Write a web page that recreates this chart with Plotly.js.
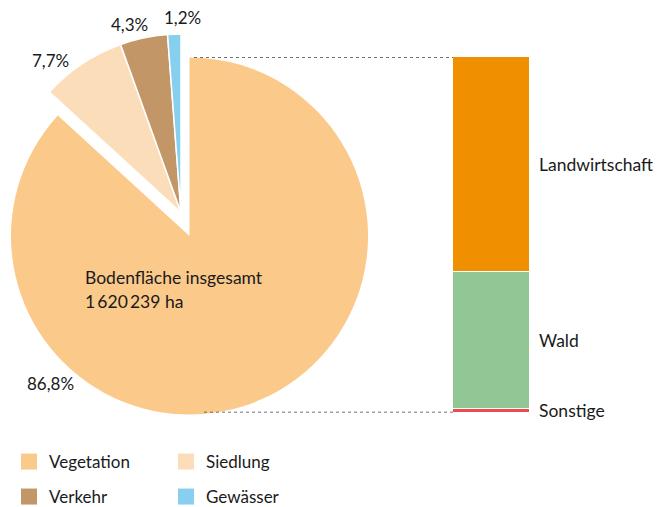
<!DOCTYPE html>
<html>
<head>
<meta charset="utf-8">
<script src="https://cdn.plot.ly/plotly-3.0.1.min.js"></script>
<style>html,body{margin:0;padding:0;background:#fff;}#chart{width:657px;height:507px;}</style>
</head>
<body>
<div id="chart"></div>
<script>
// ---- data ----
const pieLabels = ['Vegetation', 'Siedlung', 'Verkehr', 'Gewässer'];
const pieValues = [86.8, 7.7, 4.3, 1.2];
const barLabels = ['Landwirtschaft', 'Wald', 'Sonstige'];
const barValues = [52.5, 33.5, 0.8];
const totalTitle = 'Bodenfläche insgesamt';
const totalHa = 1620239;

// ---- style ----
const pieColors = ['#FBC98A', '#FCDDBA', '#C29667', '#86CFEF'];
const barColors = ['#F09000', '#90C795', '#E84C4C'];
const FONT = 'Lato, "Source Sans Pro", sans-serif';
const W = 657, H = 507;
const px = x => x / W;
const py = y => 1 - y / H;

const CX = 189.5, CY = 236, R = 178.5;     // main pie centre / radius (px)
const DX = -8.5, DY = -23.5;               // shift of the pulled-out group (px)

const fmt = v => v.toFixed(1).replace('.', ',') + '%';
const fmtHa = n => String(n).replace(/\B(?=(\d{3})+(?!\d))/g, '\u2009') + ' ha';

const transparent = 'rgba(0,0,0,0)';
const restSum = pieValues.slice(1).reduce((a, b) => a + b, 0);

const traces = [];
// main (Vegetation) slice
traces.push({
  type: 'pie', sort: false, direction: 'clockwise', rotation: 0,
  labels: [pieLabels[0], 'rest'], values: [pieValues[0], restSum],
  marker: {colors: [pieColors[0], transparent], line: {color: '#fff', width: 0}},
  textinfo: 'none', hoverinfo: 'skip', showlegend: false,
  domain: {x: [px(CX - R), px(CX + R)], y: [py(CY + R), py(CY - R)]}
});
// pulled-out small slices
traces.push({
  type: 'pie', sort: false, direction: 'clockwise', rotation: 0,
  labels: ['veg-space'].concat(pieLabels.slice(1)), values: pieValues,
  marker: {colors: [transparent].concat(pieColors.slice(1)), line: {color: '#fff', width: [0, 1.5, 1.5, 1.5]}},
  textinfo: 'none', hoverinfo: 'skip', showlegend: false,
  domain: {x: [px(CX + DX - R), px(CX + DX + R)], y: [py(CY + DY + R), py(CY + DY - R)]}
});
// stacked bar (breakdown of Vegetation), bottom segment first
for (let i = barLabels.length - 1; i >= 0; i--) {
  traces.push({
    type: 'bar', x: ['Vegetation'], y: [barValues[i]], name: barLabels[i],
    xaxis: 'x2', yaxis: 'y2', width: 1,
    marker: {color: barColors[i], line: {color: '#fff', width: 1.5}},
    showlegend: false, hoverinfo: 'skip'
  });
}
// legend entries: one small legend per entry (2 x 2 grid)
const legendNames = ['legend', 'legend2', 'legend3', 'legend4'];
pieLabels.forEach((lab, i) => {
  traces.push({
    type: 'scatter', mode: 'markers', x: [null], y: [null], name: lab,
    marker: {symbol: 'square', size: 16, color: pieColors[i]},
    legend: legendNames[i], hoverinfo: 'skip'
  });
});

const barTotal = barValues.reduce((a, b) => a + b, 0);

// annotations
const pctPos = [[50, 383], [50, 61], [129, 24], [182, 18]];
const annotations = pieValues.map((v, i) => ({
  text: fmt(v), x: px(pctPos[i][0]), y: py(pctPos[i][1]), xref: 'paper', yref: 'paper',
  showarrow: false, xanchor: 'center', yanchor: 'middle', font: {size: 17, color: '#1a1a1a'}
}));
annotations.push({text: totalTitle, x: px(83), y: py(277), xref: 'paper', yref: 'paper',
  showarrow: false, xanchor: 'left', yanchor: 'middle', font: {size: 17.5, color: '#1a1a1a'}});
annotations.push({text: fmtHa(totalHa), x: px(83), y: py(301), xref: 'paper', yref: 'paper',
  showarrow: false, xanchor: 'left', yanchor: 'middle', font: {size: 17.5, color: '#1a1a1a'}});
let cum = barTotal;
barLabels.forEach((lab, i) => {
  const mid = cum - barValues[i] / 2;
  cum -= barValues[i];
  annotations.push({text: lab, x: px(537), y: mid, xref: 'paper', yref: 'y2',
    showarrow: false, xanchor: 'left', yanchor: 'middle', font: {size: 17.5, color: '#1a1a1a'}});
});

const shapes = [
  {type: 'line', xref: 'paper', yref: 'y2', x0: px(194), x1: px(453), y0: barTotal, y1: barTotal,
   line: {color: '#444', width: 1.5, dash: 'dot'}},
  {type: 'line', xref: 'paper', yref: 'y2', x0: px(204), x1: px(453), y0: 0, y1: 0,
   line: {color: '#444', width: 1.5, dash: 'dot'}}
];

const legendBase = {
  orientation: 'v', xref: 'container', yref: 'container', xanchor: 'left', yanchor: 'middle',
  bgcolor: 'rgba(0,0,0,0)', borderwidth: 0,
  font: {size: 17, color: '#1a1a1a', family: FONT}, itemclick: false, itemdoubleclick: false
};
const legPos = [[9, 462], [166, 462], [9, 497], [166, 497]];

const layout = {
  width: W, height: H, margin: {l: 0, r: 0, t: 0, b: 0, autoexpand: false},
  paper_bgcolor: '#fff', plot_bgcolor: '#fff',
  font: {family: FONT, size: 17, color: '#1a1a1a'},
  barmode: 'stack', bargap: 0,
  xaxis: {visible: false, domain: [0, 0.01]},
  yaxis: {visible: false, domain: [0, 0.01]},
  xaxis2: {visible: false, domain: [px(453), px(530)], range: [-0.5, 0.5], fixedrange: true},
  yaxis2: {visible: false, domain: [py(412.5), py(57)], range: [0, barTotal], anchor: 'x2', fixedrange: true},
  annotations: annotations,
  shapes: shapes,
  showlegend: true
};
legendNames.forEach((ln, i) => {
  layout[ln] = Object.assign({}, legendBase, {x: px(legPos[i][0]), y: py(legPos[i][1])});
});

Plotly.newPlot('chart', traces, layout, {displayModeBar: false, staticPlot: false});
</script>
</body>
</html>
